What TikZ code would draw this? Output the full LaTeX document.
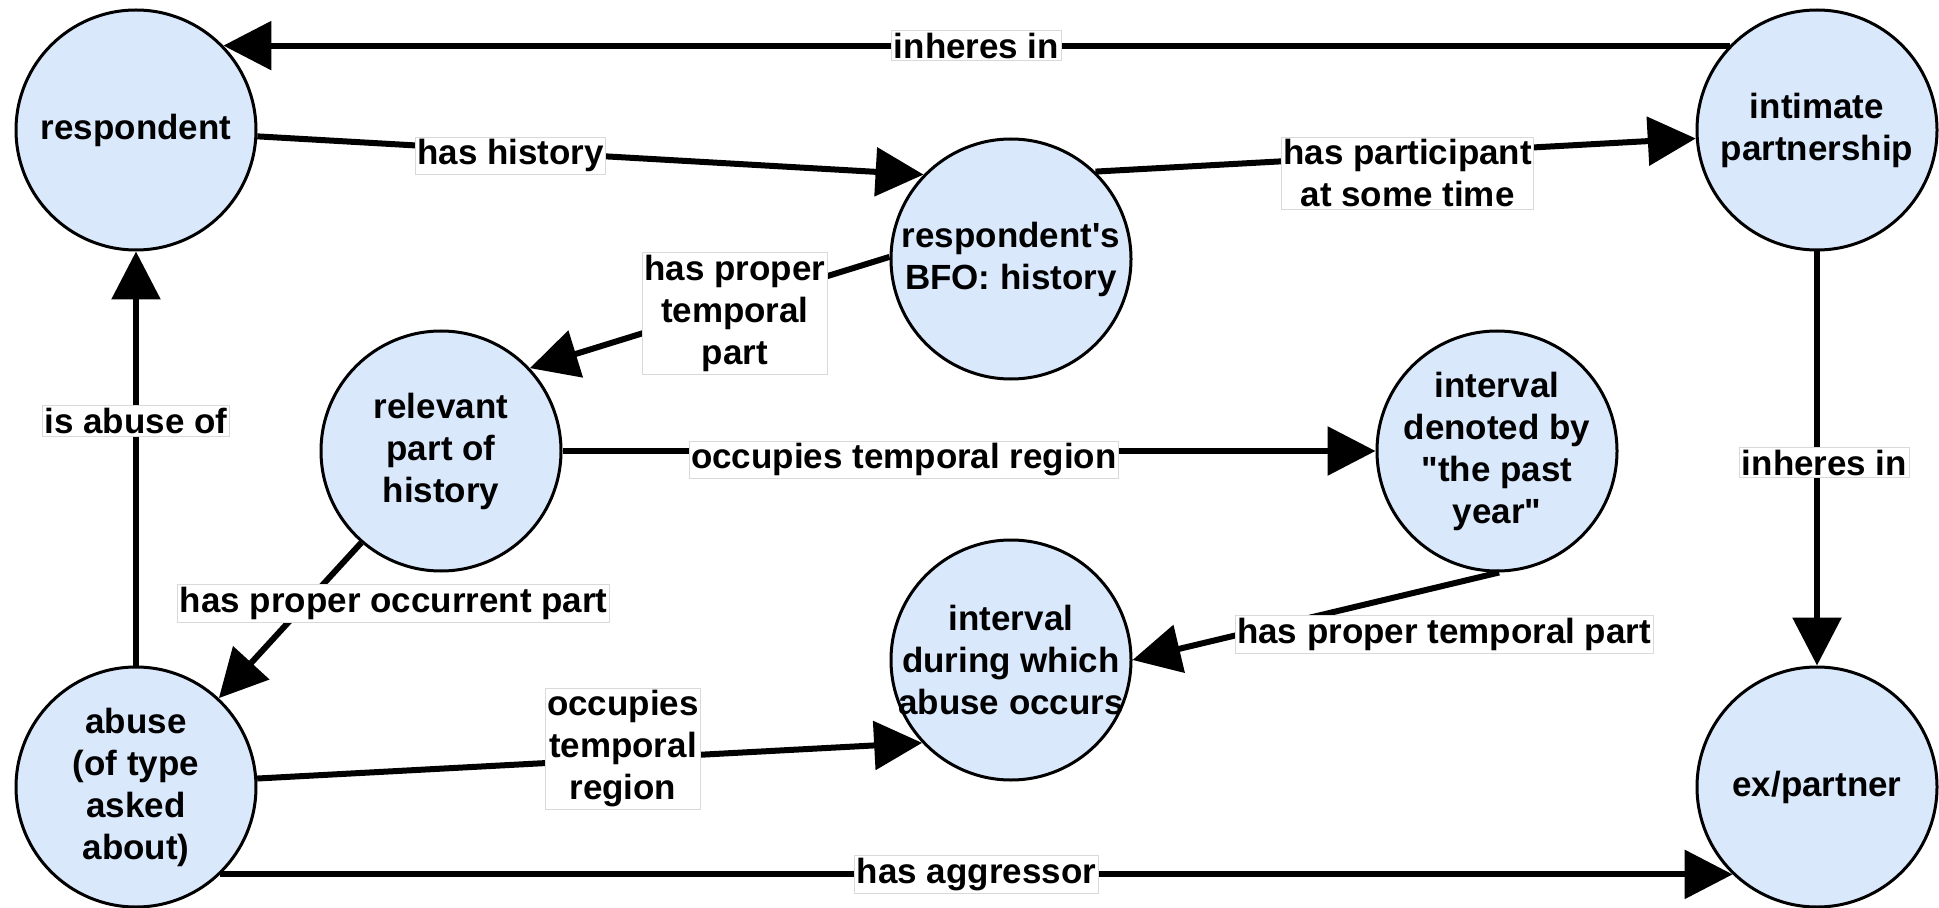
\documentclass[tikz,border=0pt]{standalone}
\usepackage{fontspec}
\setmainfont{Liberation Sans}
\usepackage{tikz}
\usetikzlibrary{arrows.meta,
                positioning}
\definecolor{entfill}{RGB}{218,232,252}

\begin{document}
\begin{tikzpicture}[
node distance = 13.14cm and 33.62cm, on grid,
every node/.style = {font=\bfseries\fontsize{19.9}{23.9}\selectfont, align=center},
ent/.style = {circle, draw, line width=0.06cm, fill=entfill,
              minimum size=4.8cm, inner sep=-3mm},
lbl/.style = {fill=white, draw=black!15, line width=0.02cm,
              inner xsep=0.04cm, inner ysep=0.05cm},
arr/.style = {line width=0.12cm, -{Triangle[length=0.96cm, width=0.96cm]}}
                        ]
    \useasboundingbox (0,0) rectangle (38.78,-18.16);

    \node[ent] (resp) at (2.72,-2.60) {respondent};
    \node[ent] (abuse)  [below=of resp] {abuse\\(of type\\asked\\about)};
    \node[ent] (intim)  [right=of resp] {intimate\\partnership};
    \node[ent] (expart) [below=of intim] {ex/partner};
    \node[ent] (bfo)    [below right=2.58cm and 17.5cm of resp] {respondent\textquotesingle s\\BFO: history};
    \node[ent] (rel)    [below right=6.42cm and 6.1cm of resp] {relevant\\part of\\history};
    \node[ent] (year)   [right=21.12cm of rel] {interval\\denoted by\\\textquotedbl the past\\year\textquotedbl};
    \node[ent] (during) [below=8.02cm of bfo] {interval\\during which\\abuse occurs};

    \draw[arr] (intim.136) -- node[lbl] {inheres in} (resp.44);
    \draw[arr] (resp.-3) -- node[lbl, pos=.38, yshift=-0.1cm] {has history} (bfo.136);
    \draw[arr] (bfo.46) -- node[lbl, pos=.52, yshift=-0.38cm] {has participant\\at some time} (intim.184);
    \draw[arr] (bfo.179) -- node[lbl, pos=.43, yshift=-0.18cm] {has proper\\temporal\\part} (rel.43);
    \draw[arr] (rel) -- node[lbl, pos=.42, yshift=-0.18cm] {occupies temporal region} (year);
    \draw[arr] (rel.229) -- node[lbl, pos=.39, xshift=1.76cm] {has proper occurrent part} (abuse.47);
    \draw[arr] (abuse) -- node[lbl, pos=.59] {is abuse of} (resp);
    \draw[arr] (intim) -- node[lbl, pos=.51, xshift=0.15cm] {inheres in} (expart);
    \draw[arr] (year.-89) -- node[lbl, pos=.15, yshift=-0.98cm] {has proper temporal part} (during.east);
    \draw[arr] (abuse.4) -- node[lbl, pos=.55, yshift=0.2cm] {occupies\\temporal\\region} (during.223);
    \draw[arr] (abuse.-46) -- node[lbl] {has aggressor} (expart.226);
\end{tikzpicture}
\end{document}
